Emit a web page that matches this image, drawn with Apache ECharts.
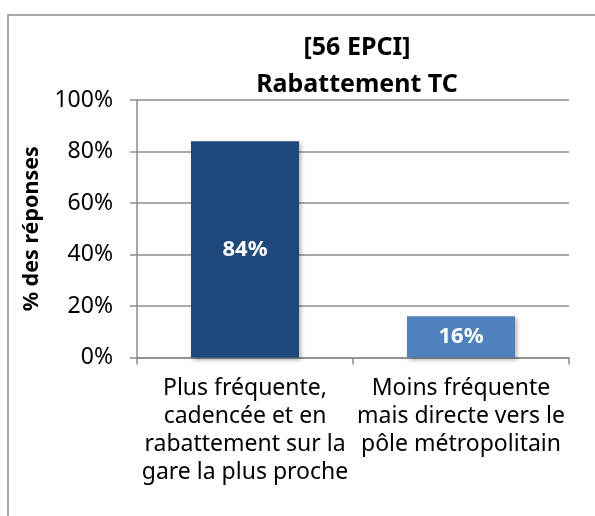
<!DOCTYPE html>
<html>
<head>
<meta charset="utf-8">
<script src="https://cdn.jsdelivr.net/npm/echarts@6/dist/echarts.min.js"></script>
<style type="text/css">
	html,body{margin:0;padding:0;background:#fff;overflow:hidden}
	#main{width:595px;height:516px;}
</style>
</head>
<body>
<div id="main"></div>
<script type="text/javascript">
// données du graphique
var categories = [
	'Plus fréquente,\ncadencée et en\nrabattement sur la\ngare la plus proche',
	'Moins fréquente\nmais directe vers le\npôle métropolitain'
];
var values = [0.84, 0.16];
var barColors = ['#1F497D', '#4F81BD'];
var yTicks = [0, 0.2, 0.4, 0.6, 0.8, 1];

var font = '"Noto Sans", "DejaVu Sans", sans-serif';
var gridColor = '#8c8c8c';

var chart = echarts.init(document.getElementById('main'));

var option = {
	animation: false,
	// cadre autour du graphique (coupé à droite et en bas)
	graphic: [{
		type: 'polyline',
		shape: {points: [[8, 600], [8, 15], [700, 15]]},
		style: {fill: 'none', stroke: '#8c8c8c', lineWidth: 1.5},
		silent: true
	}],
	title: {
		text: '[56 EPCI]\nRabattement TC',
		left: 352,
		top: 24,
		textAlign: 'center',
		textStyle: {
			fontFamily: font,
			fontWeight: 'bold',
			fontSize: 25,
			lineHeight: 37,
			color: '#000'
		}
	},
	grid: {left: 137, right: 26, top: 100, bottom: 158.5},
	xAxis: {
		type: 'category',
		data: categories,
		axisLine: {lineStyle: {color: gridColor, width: 1.5}},
		axisTick: {show: true, length: 7, lineStyle: {color: gridColor, width: 1.5}},
		axisLabel: {
			interval: 0,
			margin: 17,
			fontFamily: font,
			fontSize: 23,
			lineHeight: 28,
			color: '#000'
		}
	},
	yAxis: {
		type: 'value',
		min: yTicks[0],
		max: yTicks[yTicks.length - 1],
		interval: 0.2,
		name: '% des réponses',
		nameLocation: 'middle',
		nameGap: 94,
		nameRotate: 90,
		nameTextStyle: {
			fontFamily: font,
			fontWeight: 'bold',
			fontSize: 21.5,
			color: '#000'
		},
		axisLine: {show: true, lineStyle: {color: gridColor, width: 1.5}},
		axisTick: {show: true, length: 7, lineStyle: {color: gridColor, width: 1.5}},
		splitLine: {lineStyle: {color: gridColor, width: 1.5}},
		axisLabel: {
			margin: 24,
			fontFamily: font,
			fontSize: 23,
			color: '#000',
			formatter: function (v) { return Math.round(v * 100) + '%'; }
		}
	},
	series: [{
		type: 'bar',
		barWidth: 108,
		data: values.map(function (v, i) {
			return {value: v, itemStyle: {color: barColors[i]}};
		}),
		itemStyle: {
			shadowBlur: 4,
			shadowColor: 'rgba(0,0,0,0.3)',
			shadowOffsetX: 2,
			shadowOffsetY: 2
		},
		label: {
			show: true,
			position: 'inside',
			fontFamily: font,
			fontWeight: 'bold',
			fontSize: 22,
			color: '#fff',
			formatter: function (p) { return Math.round(p.value * 100) + '%'; }
		}
	}]
};

chart.setOption(option);
</script>
</body>
</html>
